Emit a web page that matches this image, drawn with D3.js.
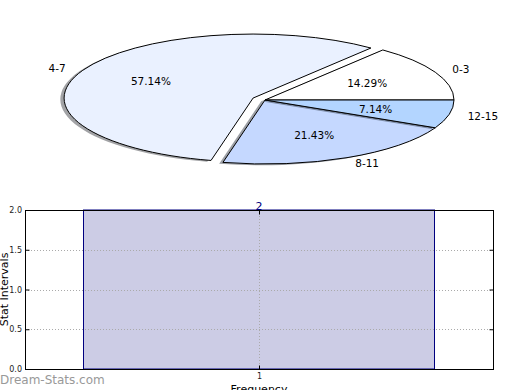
<!DOCTYPE html>
<html>
<head>
<meta charset="utf-8">
<script src="https://cdn.jsdelivr.net/npm/d3@7"></script>
<style>
  body { margin: 0; background: #fff; }
  text { font-family: "DejaVu Sans", sans-serif; }
</style>
</head>
<body>
<div id="chart"></div>
<script>
// pie data
const pieLabels = ["0-3", "4-7", "8-11", "12-15"];
const pieValues = [2, 8, 3, 1];
const pieColors = ["#ffffff", "#eaf1ff", "#c5d8ff", "#b3d5ff"];
const pieExplode = [0, 0.07, 0, 0];

// bar data
const barX = [1];
const barValues = [2];
const yTicks = [0, 0.5, 1.0, 1.5, 2.0];
const xTicks = [1];

const svg = d3.select("#chart")
  .append("svg")
  .attr("width", 520)
  .attr("height", 390);

// ---- pie (squashed into an ellipse like the original) ----
const cx = 265, cy = 100, rx = 189, ry = 64, R = 100;

const pie = d3.pie()
  .sort(null)
  .startAngle(Math.PI / 2)
  .endAngle(Math.PI / 2 - 2 * Math.PI)
  .value(d => d);

const arcs = pie(pieValues);
const arc = d3.arc().innerRadius(0).outerRadius(R);
const total = d3.sum(pieValues);

const pieG = svg.append("g")
  .attr("transform", `translate(${cx},${cy}) scale(${rx / R},${ry / R})`);

arcs.forEach((a, i) => {
  const m = (a.startAngle + a.endAngle) / 2;
  const ex = pieExplode[i] * R * Math.sin(m);
  const ey = -pieExplode[i] * R * Math.cos(m);
  const c = d3.rgb(pieColors[i]);
  // shadow first, then the wedge
  pieG.append("path")
    .attr("d", arc(a))
    .attr("transform", `translate(${ex - 0.02 * R},${ey + 0.02 * R})`)
    .attr("fill", d3.rgb(c.r * 0.3, c.g * 0.3, c.b * 0.3))
    .attr("fill-opacity", 0.5);
  pieG.append("path")
    .attr("d", arc(a))
    .attr("transform", `translate(${ex},${ey})`)
    .attr("fill", pieColors[i])
    .attr("stroke", "#000")
    .attr("stroke-width", 1)
    .attr("vector-effect", "non-scaling-stroke")
    .attr("stroke-linejoin", "miter");
});

// labels and percentages
arcs.forEach((a, i) => {
  const m = (a.startAngle + a.endAngle) / 2;
  const sx = Math.sin(m), sy = -Math.cos(m);
  const e = pieExplode[i];
  svg.append("text")
    .attr("x", cx + rx * (e + 1.1) * sx)
    .attr("y", cy + ry * (e + 1.1) * sy)
    .attr("text-anchor", sx > 0 ? "start" : "end")
    .attr("dominant-baseline", "central")
    .style("font-size", "10.5px")
    .text(pieLabels[i]);
  svg.append("text")
    .attr("x", cx + rx * (e + 0.6) * sx)
    .attr("y", cy + ry * (e + 0.6) * sy)
    .attr("text-anchor", "middle")
    .attr("dominant-baseline", "central")
    .style("font-size", "10.5px")
    .text(d3.format(".2f")(pieValues[i] / total * 100) + "%");
});

// ---- bar chart ----
const plotLeft = 25, plotRight = 493, plotTop = 210, plotBottom = 369;

const x = d3.scaleLinear().domain([0.5, 1.5]).range([plotLeft, plotRight]);
const y = d3.scaleLinear().domain([0, 2]).range([plotBottom, plotTop]);
const barW = 0.75;

svg.selectAll("rect.bar")
  .data(barValues)
  .join("rect")
  .attr("class", "bar")
  .attr("x", (d, i) => x(barX[i] - barW / 2))
  .attr("width", (d, i) => x(barX[i] + barW / 2) - x(barX[i] - barW / 2))
  .attr("y", d => y(d))
  .attr("height", d => y(0) - y(d))
  .attr("fill", "#ccccE5")
  .attr("stroke", "#000080")
  .attr("stroke-width", 1);

// grid
svg.append("g")
  .selectAll("line")
  .data(yTicks.slice(1, -1))
  .join("line")
  .attr("x1", plotLeft).attr("x2", plotRight)
  .attr("y1", d => Math.round(y(d)) + 0.5).attr("y2", d => Math.round(y(d)) + 0.5)
  .attr("stroke", "#aaa")
  .attr("stroke-dasharray", "1,2");
svg.append("g")
  .selectAll("line")
  .data(xTicks)
  .join("line")
  .attr("x1", d => Math.round(x(d)) + 0.5).attr("x2", d => Math.round(x(d)) + 0.5)
  .attr("y1", plotTop).attr("y2", plotBottom)
  .attr("stroke", "#aaa")
  .attr("stroke-dasharray", "1,2");

// axes frame
svg.append("rect")
  .attr("x", plotLeft + 0.5).attr("y", plotTop + 0.5)
  .attr("width", plotRight - plotLeft).attr("height", plotBottom - plotTop)
  .attr("fill", "none")
  .attr("stroke", "#000")
  .attr("stroke-width", 1);

// y axis ticks (inside) and labels
const yAxis = d3.axisLeft(y).tickValues(yTicks).tickSize(-4).tickPadding(3.5)
  .tickFormat(d3.format(".1f"));
const gy = svg.append("g").attr("transform", `translate(${plotLeft + 0.5},0)`).call(yAxis);
gy.select(".domain").remove();
gy.selectAll("text").style("font-size", "8px").attr("fill", "#222");
svg.append("g").attr("transform", `translate(${plotRight + 0.5},0)`)
  .call(d3.axisRight(y).tickValues(yTicks).tickSize(-4).tickFormat(""))
  .select(".domain").remove();

const xAxis = d3.axisBottom(x).tickValues(xTicks).tickSize(-4).tickPadding(3.5)
  .tickFormat(d3.format("d"));
const gx = svg.append("g").attr("transform", `translate(0,${plotBottom + 0.5})`).call(xAxis);
gx.select(".domain").remove();
gx.selectAll("text").style("font-size", "8px").attr("fill", "#222");
svg.append("g").attr("transform", `translate(0,${plotTop + 0.5})`)
  .call(d3.axisTop(x).tickValues(xTicks).tickSize(-4).tickFormat(""))
  .select(".domain").remove();

// value label above bar
svg.selectAll("text.val")
  .data(barValues)
  .join("text")
  .attr("class", "val")
  .attr("x", (d, i) => x(barX[i]))
  .attr("y", d => y(d) - 0.5)
  .attr("text-anchor", "middle")
  .attr("fill", "#000080")
  .style("font-size", "11px")
  .text(d => d);

// axis labels
svg.append("text")
  .attr("x", (plotLeft + plotRight) / 2)
  .attr("y", 393)
  .attr("text-anchor", "middle")
  .style("font-size", "11px")
  .text("Frequency");
svg.append("text")
  .attr("transform", `translate(8,${(plotTop + plotBottom) / 2}) rotate(-90)`)
  .attr("text-anchor", "middle")
  .style("font-size", "11px")
  .text("Stat Intervals");

// watermark
svg.append("text")
  .attr("x", 0)
  .attr("y", 384)
  .attr("fill", "#999")
  .style("font-size", "12px")
  .text("Dream-Stats.com");
</script>
</body>
</html>
